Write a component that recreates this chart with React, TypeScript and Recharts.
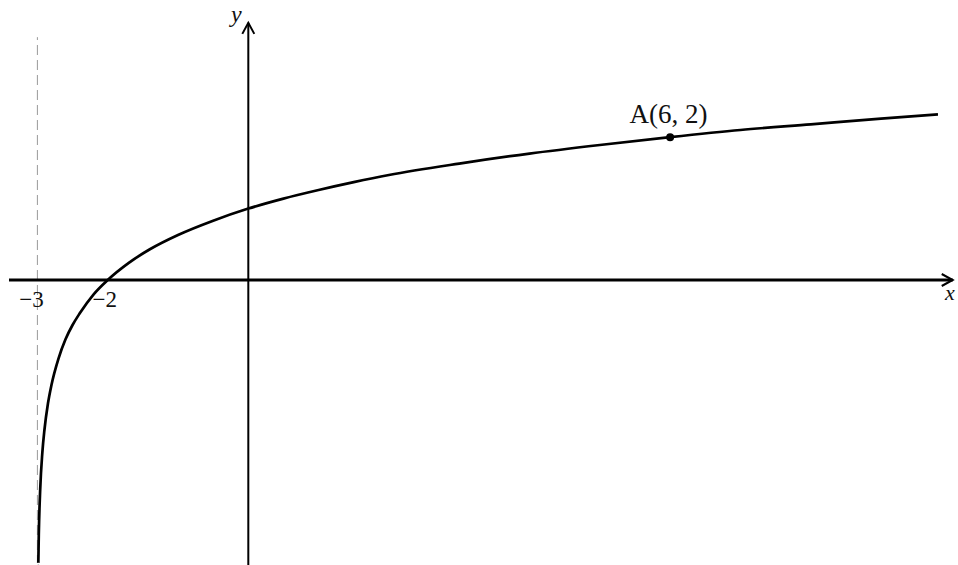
import React from "react";
import { LineChart, Line, XAxis, YAxis, ReferenceLine, ReferenceDot } from "recharts";

const curveX = [
  -2.988, -2.98, -2.96, -2.93, -2.9, -2.85, -2.8, -2.7, -2.6, -2.5, -2.4, -2.2,
  -2, -1.7, -1.4, -1, -0.5, 0, 0.5, 1, 1.5, 2, 3, 4, 5, 6, 7, 8, 9, 9.81,
];
const curveY = [
  -4.03, -3.56, -2.93, -2.42, -2.1, -1.73, -1.47, -1.1, -0.83, -0.63, -0.47,
  -0.2, 0, 0.24, 0.43, 0.63, 0.83, 1, 1.14, 1.26, 1.37, 1.47, 1.63, 1.77, 1.89,
  2, 2.1, 2.18, 2.26, 2.32,
];

const pointA = { x: 6, y: 2, label: "A(6, 2)" };
const asymptoteX = -3;
const tickValues = [-3, -2];
const tickLabels = ["\u22123", "\u22122"];

const curve = curveX.map((x, i) => ({ x, y: curveY[i] }));

const X_MIN = -3.532;
const X_MAX = 10.095;
const Y_MIN = -3.99;
const Y_MAX = 3.92;

const SERIF = "'Liberation Serif', 'Times New Roman', serif";

// axis line with an open arrow head at its far end
const ArrowLine = (props: any) => {
  const { x1, y1, x2, y2, strokeWidth } = props;
  const dx = x2 - x1;
  const dy = y2 - y1;
  const len = Math.sqrt(dx * dx + dy * dy) || 1;
  const ux = dx / len;
  const uy = dy / len;
  const back = 11;
  const side = 6;
  const p1 = `${x2 - ux * back - uy * side},${y2 - uy * back + ux * side}`;
  const p2 = `${x2 - ux * back + uy * side},${y2 - uy * back - ux * side}`;
  return (
    <g>
      <line x1={x1} y1={y1} x2={x2} y2={y2} stroke="#000" strokeWidth={strokeWidth} />
      <polyline
        points={`${p1} ${x2},${y2} ${p2}`}
        fill="none"
        stroke="#000"
        strokeWidth={2}
      />
    </g>
  );
};

const TickText = ({ viewBox, value, dx }: any) => (
  <text
    x={viewBox.x + dx}
    y={307}
    textAnchor="middle"
    fontFamily={SERIF}
    fontSize={23}
    fill="#111"
  >
    {value}
  </text>
);

const PointLabel = ({ viewBox, value }: any) => (
  <text
    x={viewBox.x + viewBox.width / 2 - 1.5}
    y={viewBox.y - 10}
    textAnchor="middle"
    fontFamily={SERIF}
    fontSize={27}
    fill="#111"
  >
    {value}
  </text>
);

export default function App() {
  return (
    <div style={{ position: "absolute", left: 0, top: 0, background: "#fff" }}>
      <LineChart
        width={958}
        height={565}
        data={curve}
        margin={{ top: 0, right: 0, bottom: 0, left: 0 }}
      >
        <XAxis type="number" dataKey="x" domain={[X_MIN, X_MAX]} hide allowDataOverflow />
        <YAxis type="number" domain={[Y_MIN, Y_MAX]} hide allowDataOverflow />

        <ReferenceLine
          segment={[
            { x: asymptoteX, y: Y_MIN },
            { x: asymptoteX, y: 3.4 },
          ]}
          stroke="#9a9a9a"
          strokeWidth={1}
          strokeDasharray="10 5"
        />
        <ReferenceLine
          segment={[
            { x: -3.404, y: 0 },
            { x: 10.02, y: 0 },
          ]}
          strokeWidth={3}
          shape={ArrowLine}
        />
        <ReferenceLine
          segment={[
            { x: 0, y: Y_MIN },
            { x: 0, y: 3.6 },
          ]}
          strokeWidth={2}
          shape={ArrowLine}
        />

        <Line
          type="monotone"
          dataKey="y"
          stroke="#000"
          strokeWidth={2.7}
          dot={false}
          isAnimationActive={false}
        />

        {tickValues.map((v, i) => (
          <ReferenceDot
            key={v}
            x={v}
            y={0}
            r={0}
            stroke="none"
            fill="none"
            label={<TickText value={tickLabels[i]} dx={i === 0 ? -6 : -3} />}
          />
        ))}

        <ReferenceDot
          x={pointA.x}
          y={pointA.y}
          r={4}
          fill="#000"
          stroke="none"
          label={<PointLabel value={pointA.label} />}
        />

        <text x={231} y={22} fontFamily={SERIF} fontStyle="italic" fontSize={24} fill="#111">
          y
        </text>
        <text x={945} y={300} fontFamily={SERIF} fontStyle="italic" fontSize={22} fill="#111">
          x
        </text>
      </LineChart>
    </div>
  );
}
